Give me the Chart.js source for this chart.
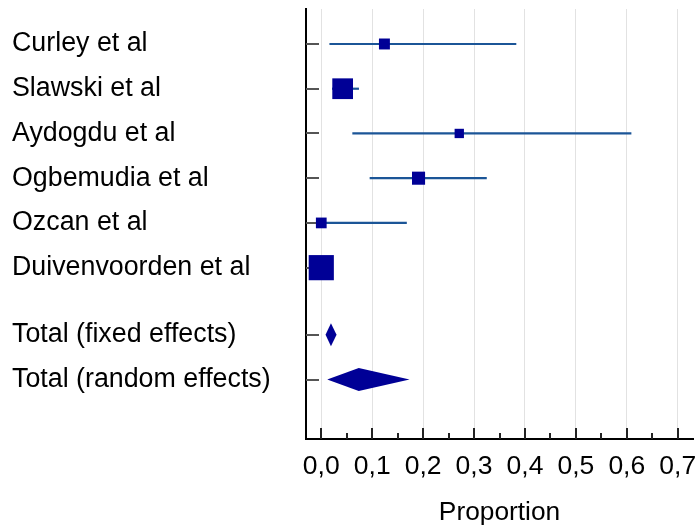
<!DOCTYPE html>
<html><head><meta charset="utf-8">
<script src="https://cdn.jsdelivr.net/npm/chart.js@4.4.1/dist/chart.umd.min.js"></script>
<style>html,body{margin:0;padding:0;background:#fff;} #wrap{width:697px;height:531px;position:relative;}</style>
</head><body><div id="wrap"><canvas id="c"></canvas></div>
<script>
// ---- data ----
const studyLabels = ['Curley et al','Slawski et al','Aydogdu et al','Ogbemudia et al','Ozcan et al','Duivenvoorden et al'];
const estimates   = [0.124, 0.042, 0.271, 0.191, 0.000, 0.000];
const lowerCI     = [0.016, 0.021, 0.061, 0.095, 0.000, 0.000];
const upperCI     = [0.383, 0.074, 0.609, 0.325, 0.168, 0.010];
const weights     = [7.7, 27.6, 5.6, 11.0, 7.4, 40.7];
const pooledLabels = ['Total (fixed effects)','Total (random effects)'];
const pooledEst    = [0.019, 0.0736];
const pooledLower  = [0.0084, 0.0117];
const pooledUpper  = [0.0300, 0.1734];
const xTickValues = [0.0, 0.1, 0.2, 0.3, 0.4, 0.5, 0.6, 0.7];
const xTickLabels = ['0,0','0,1','0,2','0,3','0,4','0,5','0,6','0,7'];
const xAxisTitle = 'Proportion';

// ---- derived ----
const rowOf = i => i + 1;
const pooledRowOf = j => studyLabels.length + 1.5 + j;
const rowTicks = [...studyLabels.map((_, i) => rowOf(i)), ...pooledLabels.map((_, j) => pooledRowOf(j))];
const rowLabels = [...studyLabels, ...pooledLabels];

const MARK = '#000096';
const CI_COLOR = '#1b5597';
const FONT = "'Liberation Sans', Arial, sans-serif";
Chart.defaults.font.family = FONT;
Chart.defaults.color = '#000';

const datasets = [{
  label: 'Estimates',
  data: estimates.map((v, i) => ({x: v, y: rowOf(i)})),
  pointStyle: 'rect',
  pointRadius: weights.map(w => 2.79 * Math.sqrt(w)),
  pointHoverRadius: weights.map(w => 2.79 * Math.sqrt(w)),
  backgroundColor: MARK,
  borderWidth: 0,
  pointBorderWidth: 0,
  order: 0
}];
studyLabels.forEach((s, i) => datasets.push({
  label: s + ' CI',
  data: [{x: lowerCI[i], y: rowOf(i)}, {x: upperCI[i], y: rowOf(i)}],
  showLine: true,
  borderColor: CI_COLOR,
  borderWidth: 2.2,
  pointRadius: 0,
  pointHoverRadius: 0,
  fill: false,
  order: 1
}));

const forestPlugin = {
  id: 'forest',
  beforeDatasetsDraw(chart) {
    const {ctx, scales: {x, y}, chartArea} = chart;
    ctx.save();
    ctx.lineWidth = 2;
    ctx.strokeStyle = '#555';
    rowTicks.forEach(r => {
      const yy = Math.round(y.getPixelForValue(r));
      ctx.beginPath(); ctx.moveTo(chartArea.left, yy); ctx.lineTo(chartArea.left + 13, yy); ctx.stroke();
    });
    ctx.restore();
  },
  afterDatasetsDraw(chart) {
    const {ctx, scales: {x, y}, chartArea} = chart;
    ctx.save();
    ctx.fillStyle = MARK;
    pooledEst.forEach((e, j) => {
      const yy = y.getPixelForValue(pooledRowOf(j));
      const xl = x.getPixelForValue(pooledLower[j]);
      const xc = x.getPixelForValue(e);
      const xr = x.getPixelForValue(pooledUpper[j]);
      const h = 11.5;
      ctx.beginPath();
      ctx.moveTo(xl, yy); ctx.lineTo(xc, yy - h); ctx.lineTo(xr, yy); ctx.lineTo(xc, yy + h);
      ctx.closePath(); ctx.fill();
    });
    ctx.lineWidth = 2;
    ctx.strokeStyle = '#222';
    const b = chartArea.bottom;
    x.ticks.forEach((t, k) => {
      const px = Math.round(x.getPixelForValue(t.value));
      ctx.beginPath(); ctx.moveTo(px, b); ctx.lineTo(px, b - 11); ctx.stroke();
      if (k < x.ticks.length - 1) {
        const pm = Math.round(x.getPixelForValue((t.value + x.ticks[k + 1].value) / 2));
        ctx.beginPath(); ctx.moveTo(pm, b); ctx.lineTo(pm, b - 6); ctx.stroke();
      }
    });
    ctx.restore();
  }
};

new Chart(document.getElementById('c'), {
  type: 'scatter',
  data: {datasets},
  plugins: [forestPlugin],
  options: {
    responsive: true,
    maintainAspectRatio: false,
    animation: false,
    layout: {autoPadding: false, padding: {left: 12, top: 9, right: 4, bottom: 0}},
    plugins: {legend: {display: false}, tooltip: {enabled: false}},
    scales: {
      x: {
        type: 'linear',
        min: -0.03, max: 0.73,
        bounds: 'data',
        afterBuildTicks: s => { s.ticks = xTickValues.map(v => ({value: v})); },
        afterFit: s => { s.height = 92; },
        ticks: {
          autoSkip: false, maxRotation: 0,
          callback: (v, i) => xTickLabels[i],
          font: {size: 26.5, lineHeight: 2.06}, color: '#000', padding: 0
        },
        grid: {color: '#e2e2e2', lineWidth: 1, drawTicks: false},
        border: {display: true, color: '#000', width: 2},
        title: {display: true, text: xAxisTitle, font: {size: 26.3}, color: '#000', padding: {top: 0, bottom: 2}}
      },
      y: {
        type: 'linear',
        reverse: true,
        min: 0.218, max: 9.83,
        bounds: 'data',
        afterBuildTicks: s => { s.ticks = rowTicks.map(v => ({value: v})); },
        afterFit: s => { s.width = 294; },
        ticks: {
          autoSkip: false, crossAlign: 'far',
          callback: (v, i) => rowLabels[i],
          font: {size: 26.8, lineHeight: 0.6}, color: '#000', padding: 0
        },
        grid: {display: false, drawTicks: false},
        border: {display: true, color: '#000', width: 2}
      }
    }
  }
});
</script>
</body></html>
